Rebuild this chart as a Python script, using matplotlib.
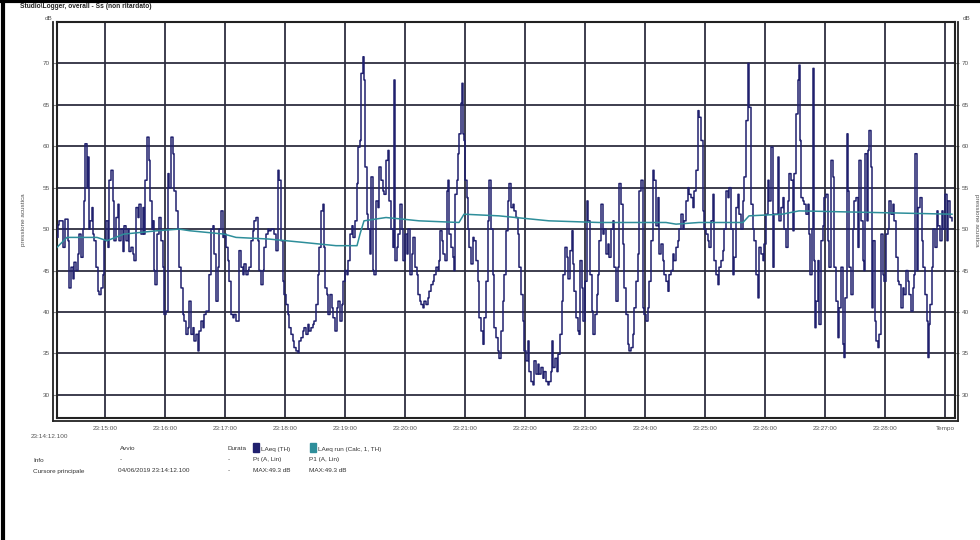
import matplotlib
matplotlib.use("Agg")
import matplotlib.pyplot as plt
from matplotlib.lines import Line2D
from matplotlib.patches import Rectangle

# ---------------- data (seconds after 23:14:12.100, dB) ----------------
laeq_t = [0, 1, 2, 6, 8, 11, 12, 14, 16, 17, 19, 21, 22, 24, 26, 27, 28, 30, 31, 32, 33, 35, 36, 37, 39,
          41, 42, 44, 46, 47, 49, 51, 52, 54, 56, 57, 59, 61, 62, 64, 66, 67, 69, 71, 72, 74, 76, 77, 79,
          81, 82, 84, 86, 87, 88, 90, 92, 93, 95, 96, 97, 98, 100, 102, 104, 106, 107, 109, 111, 112, 114,
          116, 117, 119, 121, 122, 124, 126, 127, 129, 131, 132, 134, 136, 137, 139, 141, 142, 144, 146,
          147, 149, 151, 152, 154, 156, 157, 159, 161, 162, 164, 166, 167, 169, 171, 172, 174, 176, 177, 179,
          182, 184, 186, 187, 189, 191, 192, 194, 196, 197, 199, 201, 202, 204, 206, 207, 209, 211, 212, 214,
          216, 217, 219, 221, 222, 224, 226, 227, 229, 231, 232, 234, 236, 237, 239, 241, 242, 244, 246, 247,
          249, 251, 252, 254, 256, 257, 259, 261, 262, 264, 266, 267, 268, 270, 271, 273, 275, 276, 278, 280,
          281, 283, 285, 286, 288, 290, 291, 293, 295, 296, 298, 300, 301, 303, 304, 306, 307, 308, 310, 311,
          313, 314, 316, 317, 319, 321, 322, 324, 326, 327, 329, 331, 332, 334, 336, 337, 338, 340, 341, 343,
          345, 346, 348, 350, 351, 353, 355, 356, 358, 360, 361, 363,
          364, 366, 367, 369, 371, 372, 374, 376, 377, 379, 381, 382, 383, 385, 386, 388, 390, 391, 392, 394,
          396, 397, 398, 400, 401, 402, 404, 405, 406, 407, 408, 410, 411, 412, 414, 416, 417, 419, 421, 422,
          424, 426, 427, 429, 431, 432, 434, 436, 437, 439, 441, 442, 444, 446, 447, 449, 451, 452, 454, 456,
          457, 459, 461, 462, 464, 466, 467, 469, 471, 472, 474, 476, 477, 479, 481, 482, 484, 486, 487, 489,
          491, 492, 494, 495, 496, 498, 500, 501, 503, 505, 506, 508, 510, 511, 513, 515, 516, 517, 519, 521,
          522, 523, 525, 526, 528, 530, 531, 533, 535, 536, 538, 540,
          541, 542, 544, 546, 547, 549, 551, 552, 554, 556, 557, 559, 561, 562, 564, 566, 567, 569, 571, 572,
          574, 576, 577, 579, 581, 582, 584, 586, 587, 589, 591, 592, 594, 596, 597, 599, 601, 602, 604, 606,
          607, 609, 611, 612, 614, 616, 617, 619, 621, 622, 624, 626, 627, 629, 631, 632, 634, 636, 637, 639,
          641, 642, 644, 646, 647, 649, 651, 652, 654, 656, 657, 659, 661, 662, 664, 666, 667, 669, 671, 672,
          674, 676, 677, 679, 681, 682, 684, 686, 687, 689, 691, 692, 694, 696, 697, 699, 701, 702, 704, 706,
          707, 709, 711, 712, 714, 716, 717, 719,
          721, 722, 724, 726, 727, 729, 731, 732, 734, 736, 737, 739, 741, 742, 743, 744, 746, 747, 749, 751,
          752, 753, 755, 756, 757, 758, 759, 761, 762, 764, 766, 767, 769, 771, 772, 774, 776, 777, 779, 781,
          782, 784, 786, 787, 788, 790, 791, 792, 794, 796, 797, 799, 801, 802, 804, 806, 807, 808, 810, 811,
          812, 814, 815, 816, 818, 819, 821, 822, 824, 826, 827, 829, 831, 832, 834, 836, 837, 839, 841, 842,
          844, 846, 847, 849, 851, 852, 854, 856, 857, 858, 860, 861, 863, 865, 866, 868, 870, 871, 872, 873,
          875, 876, 878, 880, 881, 883, 885, 886, 888, 890, 891, 893, 895]
laeq_v = [49, 50.5, 51, 47.8, 51.2, 48.6, 42.9, 45.4, 44, 46, 45, 47, 49.4, 46.6, 50, 53.4, 60.3, 55, 58.7, 50,
          51, 52.6, 49.4, 48.6, 45.4, 42.5, 42.1, 42.9, 44.5, 48.6, 51, 47.8, 55.9, 57.1, 53.4, 48.6, 51.4,
          53, 48.6, 50, 47.3, 50.4, 48.6, 50, 47.3, 47.8, 47, 46.2, 52.6, 51.4, 53, 49.4, 52.6, 49.4, 55.9,
          61.1, 58.3, 53.4, 50, 51, 45, 43.3, 49.4, 51.4, 48.6, 45.4, 39.7, 40.1, 56.7, 55, 61.1, 59.1, 54.6,
          52.2, 50, 45.4, 42.9, 39.7, 38.9, 37.3, 38.1, 41.3, 37.3, 38.1, 36.5, 37.3, 35.3, 37.7, 38.9, 38.1,
          39.7, 40.1, 40.1, 44.5, 50, 50.4, 47, 41.3, 45.4, 50, 52.2, 49, 49.4, 47.8, 46.2, 43.7, 39.7, 39.3,
          39.7, 38.9,
          47.4, 45.4, 44.5, 45.8, 44.5, 45, 45.4, 48.6, 49.8, 51, 51.4, 48.6, 45, 43.3, 45, 47.8, 49.4, 50,
          49.8, 50, 50, 49.4, 47.4, 57.1, 55.9, 48.6, 43.7, 42.1, 40.9, 39.7, 38.1, 37.3, 36.5, 35.7, 35.3,
          35.1, 36.5, 36.9, 37.7, 38.1, 37.3, 38.5, 37.7, 38.1, 38.5, 38.9, 40.9, 44.5, 47.8, 52.2, 53, 47.8,
          42.9, 42.1, 39.7, 42.1, 40.5, 39.3, 37.7, 40.5, 41.3, 38.9, 40.9, 43.7, 45, 44.5, 46.2, 49.4, 50.4,
          49, 51, 55.5, 59.9, 60.7, 68.8, 70.8, 68, 57.5, 51.8, 50, 47, 56.3, 45, 44.5, 53.4, 52.6, 57.5,
          55.9, 54.6, 54.2, 58.3, 59.5, 53.4, 50, 47.8, 68, 46.2, 47.8, 49.4, 53, 50, 46.2, 49.4, 47, 50,
          44.5, 47, 49, 45.4, 44.5, 42.1, 41.3,
          40.9, 40.5, 41.3, 40.9, 41.7, 42.5, 43.3, 43.7, 44.5, 45.4, 45, 46.2, 49.8, 48.6, 47, 46.2, 54.6,
          55.9, 49.4, 47.8, 46.6, 45, 54.2, 55.9, 59.1, 61.5, 65.2, 67.6, 61.5, 60.7, 55.9, 53.8, 50, 47.8,
          45.8, 49, 48.6, 46.2, 43.7, 39.3, 37.7, 36.1, 39.3, 43.7, 51, 55.9, 50, 44.5, 38.1, 36.9, 35.3,
          34.4, 37.7, 41.3, 44.5, 49.8, 53.4, 55.5, 52.6, 53, 52.2, 51.4, 49.4, 45.4, 42.1, 38.9, 35.3, 34.1,
          36.5, 32.8, 31.6, 31.2, 34.1, 32.5, 33.7, 32.5, 33.3, 32, 32.8, 31.6, 31.2, 31.6, 32.8, 36.5, 33.3,
          34.4, 32.8, 34.9, 37.3, 41.3, 44.5, 47.8, 46.6, 44, 47.4, 49.8, 45.8, 42.5, 39.3, 37.7, 37.3, 46.2,
          42.9, 38.9, 43.7, 53.4, 51, 44.5, 40.1, 37.3, 39.7, 42.1,
          44.5, 48.6, 53, 49.4, 50, 47, 48.2, 46.6, 50, 51, 45.4, 41.3, 45.4, 55.5, 53, 48.2, 42.9, 39.7,
          36.1, 35.3, 35.7, 37.3, 40.5, 43.7, 47, 54.6, 55.9, 40.5, 39.7, 38.9, 40.5, 43.7, 48.6, 57.1, 55.9,
          50.4, 53.8, 47, 48.2, 46.2, 44.5, 43.7, 42.5, 44.5, 45, 47, 46.2, 47.8, 48.6, 50, 51.8, 50, 51,
          53.4, 55, 54.2, 53.8, 52.6, 54.6, 57.1, 64.3, 63.5, 60.7, 52.2, 50, 49.4, 48.6, 47.8, 51, 54.2,
          46.2, 44.5, 43.3, 45.4, 46.2, 47.4, 50, 54.6, 53.8, 55, 50, 44.5, 46.6, 52.6, 54.2, 51.8, 50, 53.4,
          56.3, 63.1, 70, 64.7, 53, 50, 48.6, 44.5, 41.7, 47.8, 47, 46.2, 48.2, 51.8, 55.9, 53.4, 59.9, 45.4,
          51.8, 51.8,
          58.7, 51, 52.6, 53.8, 50, 47.8, 53.4, 56.7, 55.9, 49.8, 56.7, 63.9, 68, 69.8, 60.7, 53.8, 53.4, 53,
          51.8, 53, 49.4, 44.5, 50, 69.4, 46.2, 38.1, 41.3, 46.2, 38.5, 48.6, 50.4, 53.8, 54.2, 48.6, 45.4,
          58.3, 56.3, 45.4, 41.3, 36.9, 40.5, 45.4, 36.1, 34.5, 41.7, 61.5, 54.6, 45.4, 42.1, 50, 53.4, 53.8,
          47.8, 58.3, 51, 46.2, 45, 59.1, 51, 59.5, 61.9, 57.5, 40.5, 48.6, 38.9, 36.5, 35.7, 37.3, 49.4,
          44.5, 43.7, 49.4, 50, 53.4, 51.8, 53, 51, 46.6, 43.7, 43.3, 40.5, 42.9, 42.1, 45, 43.7, 42.1, 40.1,
          42.9, 44.5, 59.1, 45, 52.6, 53.8, 48.6, 45.4, 42.1, 38.9, 34.5, 38.5, 40.9, 45.4, 50, 47.8, 52.2,
          50.4, 48.6, 52.2, 50, 54.2, 48.6, 53.4, 51.4, 51]

run_t = [0, 10, 27, 40, 50, 67, 100, 122, 133, 167, 179, 212, 246, 279, 300, 303, 307, 329, 346, 362,
         402, 407, 442, 492, 542, 609, 619, 642, 686, 692, 725, 742, 819, 895]
run_v = [47.8, 49, 49, 49, 48.6, 49.4, 49.8, 50, 49.8, 49.4, 49, 48.8, 48.4, 48, 48, 49.4, 51, 51.4,
         51.2, 51, 50.8, 51.8, 51.6, 51, 50.8, 50.8, 50.6, 50.8, 50.8, 51.6, 51.8, 52.2, 52, 51.8]

minute_ticks = [47.9 + 60 * k for k in range(15)]
minute_labels = ["23:15:00", "23:16:00", "23:17:00", "23:18:00", "23:19:00", "23:20:00", "23:21:00",
                 "23:22:00", "23:23:00", "23:24:00", "23:25:00", "23:26:00", "23:27:00", "23:28:00", "Tempo"]
y_ticks = [30, 35, 40, 45, 50, 55, 60, 65, 70]

# ---------------- figure ----------------
W, H = 980, 540
fig = plt.figure(figsize=(W / 100, H / 100), dpi=100)
fig.patch.set_facecolor("white")

def fx(x):
    return x / W

def fy(y):
    return 1 - y / H

L, R, T, B = 57, 955, 22, 418
ax = fig.add_axes([fx(L), fy(B), fx(R) - fx(L), fy(T) - fy(B)])
ax.set_xlim(0, 898)
ax.set_ylim(27.2, 75)

navy = "#20206e"
teal = "#2e8e9a"
gridc = "#2e2e40"
txtc = "#555555"
FONT = "Liberation Sans"
FS = 4.6

ax.plot(laeq_t, laeq_v, color=navy, lw=1.1, drawstyle="steps-post", zorder=3)
ax.plot(run_t, run_v, color=teal, lw=1.1, zorder=4)

ax.set_xticks(minute_ticks)
ax.set_xticklabels(minute_labels, fontsize=FS, color=txtc, family=FONT)
ax.set_yticks(y_ticks)
ax.set_yticklabels([str(v) for v in y_ticks], fontsize=FS, color=txtc, family=FONT)
ax.tick_params(axis="x", length=0, pad=6)
ax.tick_params(axis="y", length=3, width=0.8, color="#888888", pad=2, right=True, labelright=True)
ax.grid(True, color=gridc, lw=1.3, zorder=1)
ax.set_axisbelow(True)
for s in ax.spines.values():
    s.set_color("#222222")
    s.set_linewidth(1.5)

ax.set_ylabel("pressione acustica", fontsize=FS, color=txtc, family=FONT, labelpad=12)

# outer double frame lines
for (x0, y0, x1, y1) in [(53, 22, 53, 421), (53, 421, 958, 421), (958, 22, 958, 421)]:
    fig.add_artist(Line2D([fx(x0), fx(x1)], [fy(y0), fy(y1)], color="#222222", lw=1.3))

# figure border (left and top)
fig.add_artist(Line2D([fx(3), fx(3)], [0, 1], color="black", lw=3))
fig.add_artist(Line2D([0, 1], [fy(1), fy(1)], color="black", lw=3))

def t(x, y, s, **kw):
    kw.setdefault("fontsize", FS)
    kw.setdefault("color", "#333333")
    kw.setdefault("family", FONT)
    kw.setdefault("va", "center")
    fig.text(fx(x), fy(y), s, **kw)

t(20, 6, "Studio\\Logger, overall - Ss (non ritardato)", fontweight="bold", color="#222222", fontsize=4.8)
t(45, 19, "dB", color=txtc)
t(963, 19, "dB", color=txtc)
t(976, 220, "pressione acustica", color=txtc, rotation=270, ha="center")

t(31, 437, "23:14:12.100", color=txtc)

t(120, 449, "Avvio")
t(227, 449, "Durata")
fig.add_artist(Rectangle((fx(253), fy(452)), fx(6), 9 / H, color=navy))
t(261, 449, "LAeq (TH)")
fig.add_artist(Rectangle((fx(310), fy(452)), fx(6), 9 / H, color=teal))
t(318, 449, "LAeq run (Calc, 1, TH)")

t(33, 460, "Info")
t(120, 460, "-")
t(228, 460, "-")
t(253, 460, "Pt (A, Lin)")
t(309, 460, "P1 (A, Lin)")

t(33, 471, "Cursore principale")
t(118, 471, "04/06/2019 23:14:12.100")
t(228, 471, "-")
t(253, 471, "MAX:49.3 dB")
t(309, 471, "MAX:49.3 dB")

fig.savefig("out.png", dpi=100, facecolor="white")
